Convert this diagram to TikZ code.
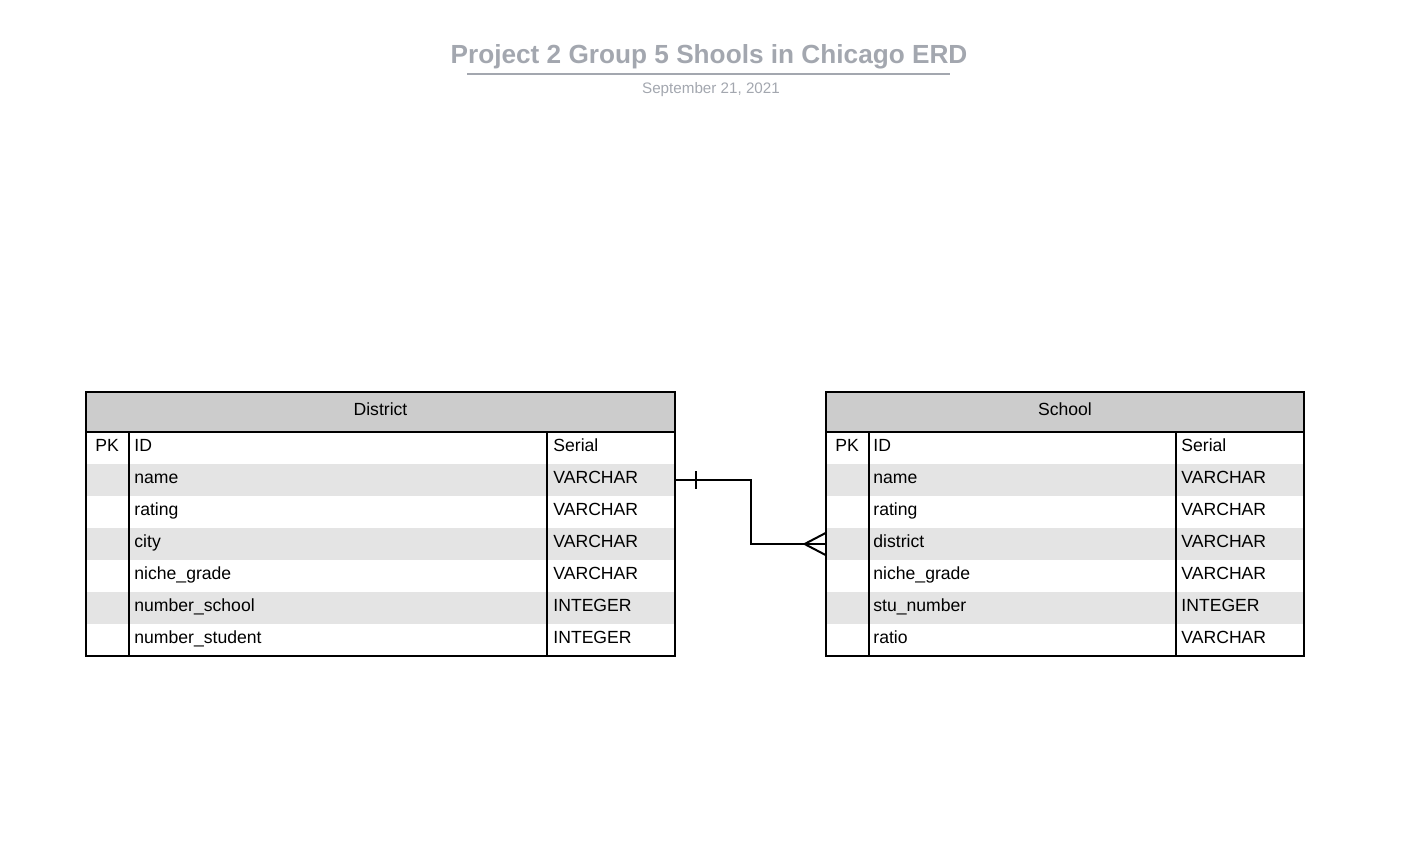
\documentclass[tikz,border=0pt]{standalone}
\usepackage{fontspec}
\setmainfont{Liberation Sans}
\usepackage{xcolor}
\usetikzlibrary{calc,positioning}
\definecolor{titlegrey}{HTML}{A3A7AF}
\definecolor{headgrey}{HTML}{CCCCCC}
\definecolor{stripe}{HTML}{E4E4E4}
\tikzset{
  tableline/.style={draw=black,line width=1pt},
  head/.style={draw=black,line width=1pt,fill=headgrey,minimum height=20pt,inner sep=0pt,
               text height=6pt,text depth=3pt,font=\fontsize{8.8}{10}\selectfont},
  rowbox/.style={minimum height=16pt,inner sep=0pt},
  cell/.style={anchor=west,inner sep=0pt,text height=6pt,text depth=3pt,font=\fontsize{8.8}{10}\selectfont},
  pk/.style={inner sep=0pt,text height=6pt,text depth=3pt,font=\fontsize{8.8}{10}\selectfont},
  rel/.style={draw=black,line width=1pt}
}
\begin{document}
\begin{tikzpicture}[x=0.5pt,y=-0.5pt]
  \useasboundingbox (0,0) rectangle (1404,848);
  % title
  \node[font=\bfseries\fontsize{13.1}{15}\selectfont,text=titlegrey] (title) at (709,57) {Project 2 Group 5 Shools in Chicago ERD};
  \draw[titlegrey,line width=1pt] (467,74) -- (950,74);
  \node[font=\fontsize{7.6}{9}\selectfont,text=titlegrey] (date) at (711,89.5) {September 21, 2021};

  % District table
  \foreach \f/\t [count=\i] in {ID/Serial,name/VARCHAR,rating/VARCHAR,city/VARCHAR,niche\_grade/VARCHAR,number\_school/INTEGER,number\_student/INTEGER}{
    \pgfmathsetmacro\yy{448+32*(\i-1)}
    \ifodd\i \def\rowfill{white}\else\def\rowfill{stripe}\fi
    \node[rowbox,minimum width=294.5pt,fill=\rowfill] (d\i) at (380.5,\yy) {};
    \node[cell] (d\i f) at (134,\yy) {\f};
    \node[cell] (d\i t) at (553,\yy) {\t};
  }
  \node[pk] (dpk) at (107,448) {PK};
  \node[head,minimum width=294.5pt] (dhead) at (380.5,412) {District};
  \draw[tableline] (86,392) rectangle (675,656);
  \draw[tableline] (129,432) -- (129,656) (547,432) -- (547,656);

  % School table
  \foreach \f/\t [count=\i] in {ID/Serial,name/VARCHAR,rating/VARCHAR,district/VARCHAR,niche\_grade/VARCHAR,stu\_number/INTEGER,ratio/VARCHAR}{
    \pgfmathsetmacro\yy{448+32*(\i-1)}
    \ifodd\i \def\rowfill{white}\else\def\rowfill{stripe}\fi
    \node[rowbox,minimum width=239pt,fill=\rowfill] (s\i) at (1065,\yy) {};
    \node[cell] (s\i f) at (873,\yy) {\f};
    \node[cell] (s\i t) at (1181,\yy) {\t};
  }
  \node[pk] (spk) at (847,448) {PK};
  \node[head,minimum width=239pt] (shead) at (1065,412) {School};
  \draw[tableline] (826,392) rectangle (1304,656);
  \draw[tableline] (869,432) -- (869,656) (1176,432) -- (1176,656);

  % relationship: one district -- many schools
  \draw[rel] (d2.east) -- ++(76,0) |- (s4.west);
  \draw[rel] ($(d2.east)+(21,-9)$) -- ($(d2.east)+(21,9)$);
  \draw[rel] ($(s4.west)+(0,-11)$) -- ($(s4.west)+(-21,0)$) -- ($(s4.west)+(0,11)$);
\end{tikzpicture}
\end{document}
